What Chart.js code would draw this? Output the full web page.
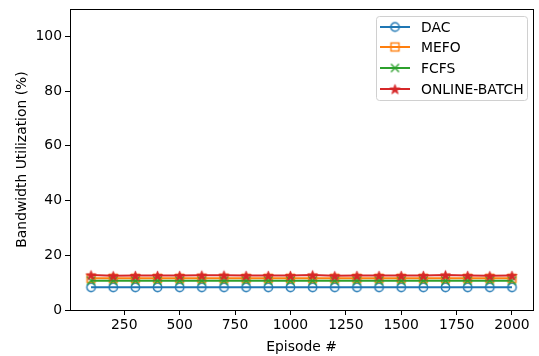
<!DOCTYPE html>
<html lang="en">
<head>
  <meta charset="UTF-8" />
  <title>Bandwidth Utilization</title>
  <script src="https://cdn.jsdelivr.net/npm/chart.js@4.4.0/dist/chart.umd.min.js"></script>
  <style>
    html, body { margin: 0; padding: 0; background: #fff; }
    #wrap { width: 539px; height: 356px; position: relative; }
  </style>
</head>
<body>
  <div id="wrap"><canvas id="bwChart" width="539" height="356"></canvas></div>
  <script>
    const episodes = [100, 200, 300, 400, 500, 600, 700, 800, 900, 1000,
                      1100, 1200, 1300, 1400, 1500, 1600, 1700, 1800, 1900, 2000];
    const dac = [8.3, 8.3, 8.3, 8.3, 8.3, 8.3, 8.3, 8.3, 8.3, 8.3,
                 8.3, 8.3, 8.3, 8.3, 8.3, 8.3, 8.3, 8.3, 8.3, 8.3];
    const mefo = [11.6, 11.6, 11.6, 11.6, 11.6, 11.6, 11.6, 11.6, 11.6, 11.6,
                  11.6, 11.6, 11.6, 11.6, 11.6, 11.6, 11.6, 11.6, 11.6, 11.6];
    const fcfs = [10.7, 10.7, 10.7, 10.7, 10.7, 10.7, 10.7, 10.7, 10.7, 10.7,
                  10.7, 10.7, 10.7, 10.7, 10.7, 10.7, 10.7, 10.7, 10.7, 10.7];
    const onlineBatch = [12.8, 12.5, 12.6, 12.6, 12.6, 12.7, 12.7, 12.6, 12.6, 12.6,
                         12.8, 12.5, 12.6, 12.6, 12.6, 12.6, 12.8, 12.6, 12.5, 12.6];
    const xTicks = [250, 500, 750, 1000, 1250, 1500, 1750, 2000];
    const yTicks = [0, 20, 40, 60, 80, 100];

    const FONT = 'DejaVu Sans';
    const pts = arr => arr.map((v, i) => ({ x: episodes[i], y: v }));

    // small canvases used as marker sprites (chart points and legend)
    function marker(kind, color) {
      const s = 13, c = document.createElement('canvas');
      c.width = s; c.height = s;
      const g = c.getContext('2d');
      const m = s / 2;
      g.strokeStyle = color;
      g.fillStyle = color;
      g.lineWidth = 1.4;
      if (kind === 'circle') {
        g.beginPath(); g.arc(m, m, 4.2, 0, Math.PI * 2); g.stroke();
      } else if (kind === 'square') {
        g.strokeRect(m - 4, m - 4, 8, 8);
      } else if (kind === 'x') {
        g.beginPath();
        g.moveTo(m - 4, m - 4); g.lineTo(m + 4, m + 4);
        g.moveTo(m + 4, m - 4); g.lineTo(m - 4, m + 4);
        g.stroke();
      } else if (kind === 'star') {
        g.beginPath();
        for (let k = 0; k < 10; k++) {
          const r = k % 2 === 0 ? 5.2 : 2.1;
          const a = -Math.PI / 2 + k * Math.PI / 5;
          const px = m + r * Math.cos(a), py = m + 0.6 + r * Math.sin(a);
          k === 0 ? g.moveTo(px, py) : g.lineTo(px, py);
        }
        g.closePath(); g.fill();
        g.lineWidth = 0.8; g.stroke();
      }
      return c;
    }

    const series = [
      { label: 'DAC', data: dac, color: '#1f77b4', kind: 'circle' },
      { label: 'MEFO', data: mefo, color: '#ff7f0e', kind: 'square' },
      { label: 'FCFS', data: fcfs, color: '#2ca02c', kind: 'x' },
      { label: 'ONLINE-BATCH', data: onlineBatch, color: '#d62728', kind: 'star' }
    ];
    series.forEach(s => { s.img = marker(s.kind, s.color); });

    // axes box on all four sides + legend in the upper right
    const framePlugin = {
      id: 'frame',
      afterDraw(chart) {
        const { ctx, chartArea: a } = chart;
        ctx.save();
        ctx.strokeStyle = '#000';
        ctx.lineWidth = 1;
        ctx.strokeRect(Math.round(a.left) + 0.5, Math.round(a.top) + 0.5,
                       Math.round(a.right - a.left), Math.round(a.bottom - a.top));

        const bx = 376.5, by = 16.5, bw = 151, bh = 84, r = 3;
        ctx.beginPath();
        ctx.moveTo(bx + r, by);
        ctx.arcTo(bx + bw, by, bx + bw, by + bh, r);
        ctx.arcTo(bx + bw, by + bh, bx, by + bh, r);
        ctx.arcTo(bx, by + bh, bx, by, r);
        ctx.arcTo(bx, by, bx + bw, by, r);
        ctx.closePath();
        ctx.fillStyle = 'rgba(255,255,255,0.8)';
        ctx.fill();
        ctx.strokeStyle = '#d0d0d0';
        ctx.lineWidth = 1;
        ctx.stroke();

        ctx.font = '13.9px ' + FONT;
        ctx.textBaseline = 'middle';
        ctx.textAlign = 'left';
        series.forEach((s, i) => {
          const y = Math.round(26.7 + i * 20.6);
          ctx.strokeStyle = s.color;
          ctx.lineWidth = 2;
          ctx.beginPath();
          ctx.moveTo(380, y);
          ctx.lineTo(410, y);
          ctx.stroke();
          ctx.drawImage(s.img, 395 - s.img.width / 2, y - s.img.height / 2);
          ctx.fillStyle = '#000';
          ctx.fillText(s.label, 421, y + 1);
        });
        ctx.restore();
      }
    };

    const tickFont = { family: FONT, size: 13.9 };

    new Chart(document.getElementById('bwChart'), {
      type: 'line',
      data: {
        datasets: series.map((s, i) => ({
          label: s.label,
          data: pts(s.data),
          borderColor: s.color,
          backgroundColor: s.color,
          pointStyle: s.img,
          borderWidth: 2,
          tension: 0,
          order: series.length - i
        }))
      },
      options: {
        responsive: false,
        animation: false,
        layout: { padding: { top: 9, right: 4, left: 14, bottom: 0 } },
        plugins: { legend: { display: false }, tooltip: { enabled: false } },
        scales: {
          x: {
            type: 'linear',
            min: 5,
            max: 2095,
            afterBuildTicks: ax => { ax.ticks = xTicks.map(v => ({ value: v })); },
            afterFit: ax => { ax.height = 46; ax.paddingLeft = 0; ax.paddingRight = 0; },
            grid: { drawOnChartArea: false, drawTicks: true, tickLength: 5, color: '#000' },
            border: { display: false },
            ticks: { color: '#000', font: tickFont, padding: 2, maxRotation: 0, callback: v => String(v) },
            title: { display: true, text: 'Episode #', color: '#000', font: tickFont, padding: { top: 0, bottom: 0 } }
          },
          y: {
            min: 0,
            max: 110,
            afterBuildTicks: ax => { ax.ticks = yTicks.map(v => ({ value: v })); },
            afterFit: ax => { ax.width = 56; ax.paddingTop = 0; ax.paddingBottom = 0; },
            grid: { drawOnChartArea: false, drawTicks: true, tickLength: 5, color: '#000' },
            border: { display: false },
            ticks: { color: '#000', font: tickFont, padding: 3, callback: v => String(v) },
            title: { display: true, text: 'Bandwidth Utilization (%)', color: '#000', font: tickFont, padding: { top: 0, bottom: 0 } }
          }
        }
      },
      plugins: [framePlugin]
    });
  </script>
</body>
</html>
